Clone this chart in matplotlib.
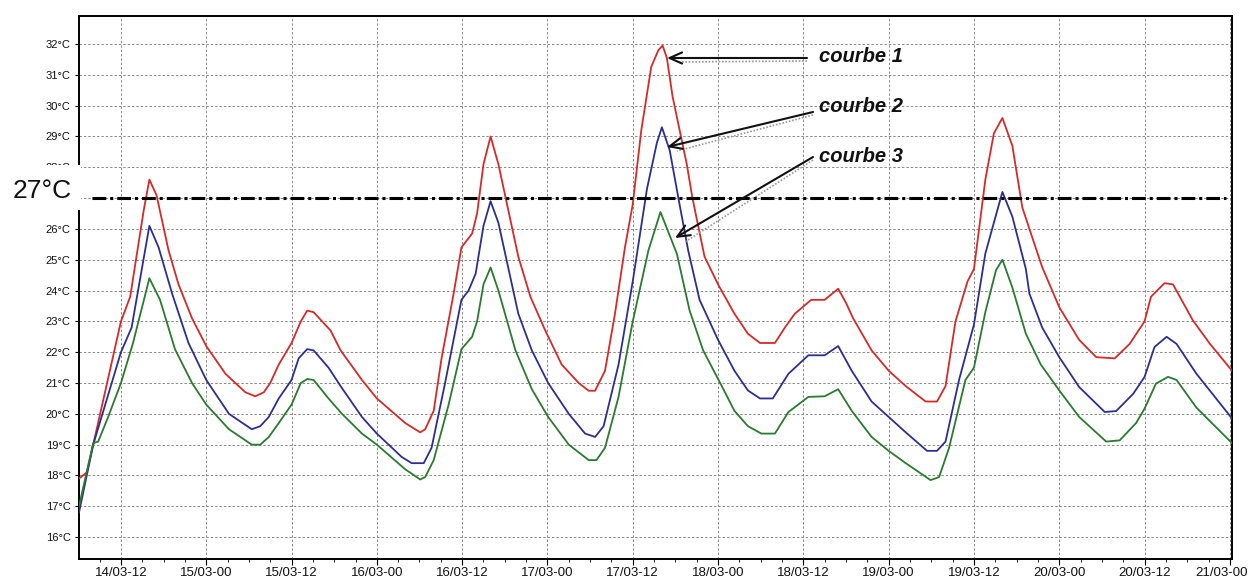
import matplotlib
matplotlib.use("Agg")
import matplotlib.pyplot as plt
from matplotlib.patches import Rectangle
from matplotlib.ticker import MultipleLocator, FixedLocator

# ---------------- data (hours since 14/03 00:00, temperature °C) ----------------
red_hours = [6.1, 7.2, 8.1, 12.0, 13.3, 15.2, 16.0, 17.0, 18.7, 20.1, 22.0, 24.0, 26.7, 29.5,
             30.9, 32.1, 33.0, 34.2, 36.0, 37.3, 38.2, 39.1, 41.5, 42.9, 45.9, 48.0, 52.0,
             54.1, 54.8, 56.0, 57.1, 58.8, 59.9, 61.4, 62.1, 63.0, 64.0, 65.1, 66.5, 67.9,
             69.6, 71.7, 74.0, 76.4, 77.8, 78.7, 80.1, 81.5, 82.9, 84.0, 85.2, 86.6, 87.6,
             88.2, 88.8, 89.6, 90.6, 91.6, 92.4, 94.1, 96.0, 98.3, 100.2, 101.9, 104.0,
             105.4, 106.8, 109.1, 111.0, 112.9, 114.0, 115.0, 117.6, 120.0, 122.4, 125.2,
             126.8, 128.0, 129.4, 131.1, 132.0, 133.6, 134.8, 136.0, 137.4, 138.8, 139.8,
             141.6, 144.0, 146.8, 149.2, 151.8, 153.9, 156.0, 156.9, 158.8, 160.0, 162.8,
             165.2, 168.3]
red_temps = [17.9, 18.1, 19.0, 23.0, 23.8, 26.6, 27.6, 27.1, 25.3, 24.2, 23.1, 22.2, 21.3, 20.7,
             20.57, 20.7, 21.0, 21.6, 22.3, 23.0, 23.35, 23.3, 22.7, 22.06, 21.1, 20.5, 19.7,
             19.4, 19.5, 20.1, 21.8, 23.9, 25.4, 25.85, 26.5, 28.1, 29.0, 28.1, 26.6, 25.1,
             23.8, 22.7, 21.6, 21.0, 20.75, 20.75, 21.4, 23.25, 25.4, 26.8, 29.2, 31.26, 31.8,
             31.95, 31.55, 30.3, 29.2, 28.1, 27.0, 25.1, 24.2, 23.25, 22.6, 22.3, 22.3,
             22.8, 23.25, 23.7, 23.7, 24.06, 23.6, 23.1, 22.06, 21.4, 20.9, 20.4,
             20.4, 20.9, 23.0, 24.3, 24.7, 27.6, 29.1, 29.6, 28.7, 26.7, 26.0,
             24.76, 23.46, 22.4, 21.84, 21.8, 22.27, 23.0, 23.8, 24.24, 24.2, 23.03,
             22.27, 21.4]

blue_hours = [6.1, 8.1, 12.0, 13.5, 16.0, 17.3, 19.2, 21.5, 24.0, 27.2, 30.4, 31.6, 32.8, 34.2,
              36.0, 37.0, 38.2, 39.1, 41.2, 42.9, 45.9, 48.0, 51.5, 52.9, 54.6, 55.7, 57.6,
              59.9, 60.9, 61.9, 63.0, 64.0, 65.1, 67.9, 69.8, 72.1, 75.0, 77.3, 78.7, 79.9,
              82.0, 84.0, 86.0, 87.4, 88.1, 89.2, 90.5, 91.8, 93.4, 96.0, 98.3, 100.2, 101.9,
              103.7, 105.9, 108.7, 111.0, 112.9, 114.8, 117.6, 120.0, 122.4, 125.4, 126.8,
              128.0, 129.9, 132.0, 133.6, 136.0, 137.4, 139.3, 139.8, 141.6, 144.0, 146.8,
              150.4, 152.0, 154.4, 156.0, 157.4, 159.1, 160.5, 163.3, 168.3]
blue_temps = [16.8, 19.0, 22.0, 22.8, 26.1, 25.4, 23.9, 22.3, 21.1, 20.0, 19.5, 19.6, 19.9, 20.5,
              21.1, 21.8, 22.1, 22.06, 21.5, 20.9, 19.9, 19.36, 18.6, 18.4, 18.4, 18.9, 21.0,
              23.7, 24.0, 24.55, 26.1, 26.9, 26.2, 23.25, 22.06, 21.0, 20.0, 19.36, 19.25, 19.6,
              21.6, 24.3, 27.3, 28.8, 29.3, 28.55, 26.9, 25.3, 23.7, 22.4, 21.4, 20.76, 20.5,
              20.5, 21.3, 21.9, 21.9, 22.2, 21.4, 20.4, 19.9, 19.4, 18.8, 18.8,
              19.1, 21.1, 22.9, 25.2, 27.2, 26.4, 24.7, 23.9, 22.8, 21.84, 20.87,
              20.06, 20.09, 20.65, 21.2, 22.17, 22.5, 22.27, 21.3, 19.85]

green_hours = [6.1, 8.1, 8.8, 10.2, 12.0, 13.7, 16.0, 17.5, 19.6, 22.0, 24.0, 27.2, 30.4, 31.6,
               32.8, 34.2, 36.0, 37.3, 38.2, 39.1, 41.2, 43.1, 45.9, 48.0, 52.0, 54.1, 54.8,
               56.0, 58.1, 59.9, 61.4, 62.1, 63.0, 64.0, 65.1, 67.5, 69.8, 72.1, 75.0, 77.8,
               78.9, 80.1, 82.0, 84.0, 86.2, 87.9, 90.2, 92.0, 93.9, 96.3, 98.3, 100.2, 102.1,
               104.0, 105.9, 108.7, 111.0, 112.9, 114.8, 117.6, 120.0, 122.4, 125.9, 127.1,
               128.5, 130.8, 132.0, 133.6, 135.1, 136.0, 137.4, 139.3, 141.4, 144.0, 146.8,
               150.6, 152.5, 154.8, 156.0, 157.6, 159.3, 160.5, 163.3, 168.3]
green_temps = [17.0, 19.05, 19.1, 19.9, 21.0, 22.3, 24.4, 23.7, 22.1, 21.0, 20.3, 19.5, 19.0, 19.0,
               19.25, 19.7, 20.3, 21.0, 21.13, 21.1, 20.5, 20.0, 19.36, 19.0, 18.2, 17.87, 17.95,
               18.5, 20.3, 22.1, 22.5, 23.0, 24.2, 24.75, 24.0, 22.06, 20.8, 19.9, 19.0, 18.5,
               18.5, 18.9, 20.55, 23.0, 25.3, 26.55, 25.2, 23.35, 22.06, 21.0, 20.1, 19.6, 19.36,
               19.36, 20.06, 20.55, 20.57, 20.8, 20.1, 19.25, 18.8, 18.4, 17.85, 17.95,
               18.9, 21.1, 21.5, 23.3, 24.66, 25.0, 24.1, 22.6, 21.6, 20.76, 19.9,
               19.1, 19.14, 19.7, 20.17, 20.98, 21.2, 21.1, 20.2, 19.05]

series_names = ["courbe 1", "courbe 2", "courbe 3"]
y_ticks = list(range(16, 33))
y_tick_labels = [f"{t}°C" for t in y_ticks]
x_tick_hours = list(range(12, 169, 12))
x_tick_labels = ["14/03-12", "15/03-00", "15/03-12", "16/03-00", "16/03-12", "17/03-00",
                 "17/03-12", "18/03-00", "18/03-12", "19/03-00", "19/03-12", "20/03-00",
                 "20/03-12", "21/03-00"]
threshold = 27
threshold_label = "27°C"

# ---------------- figure ----------------
W, H = 1248, 580
fig = plt.figure(figsize=(W / 100, H / 100), dpi=100)
fig.patch.set_facecolor("white")

def px(x0, y0, x1, y1):
    return [x0 / W, 1 - y1 / H, (x1 - x0) / W, (y1 - y0) / H]

ax = fig.add_axes(px(79, 16, 1232, 559))
ax.set_xlim(6.1, 168.3)
ax.set_ylim(15.29, 32.91)

narrow = ["Liberation Sans Narrow", "Liberation Sans", "DejaVu Sans"]

colors = ["#d42a2a", "#2c2f8e", "#2a7a30"]
for hrs, tmp, c in zip([red_hours, blue_hours, green_hours],
                       [red_temps, blue_temps, green_temps], colors):
    ax.plot(hrs, tmp, color=c, lw=1.3, zorder=3, solid_joinstyle="round")

# threshold dash-dot line
x0, x1 = ax.get_xlim()
ax.axhline(threshold, xmin=(7.9 - x0) / (x1 - x0), xmax=(167.5 - x0) / (x1 - x0),
           color="black", lw=2.2, dashes=(4.5, 1.3, 1.0, 1.3), zorder=4)

# ticks & grid (the 27°C tick label is hidden behind the big label in the original)
ax.yaxis.set_major_locator(FixedLocator(y_ticks))
ax.set_yticklabels([("" if t == threshold else lab) for t, lab in zip(y_ticks, y_tick_labels)],
                   family=narrow, fontsize=8, color="#111111")
ax.xaxis.set_major_locator(FixedLocator(x_tick_hours))
# last label is drawn separately (it sits slightly left of its tick, against the edge)
ax.set_xticklabels(x_tick_labels[:-1] + [""], family=narrow, fontsize=9.5, color="#111111")
fig.text(1222 / W, 1 - 567 / H, x_tick_labels[-1], family=narrow, fontsize=9.5,
         color="#111111", ha="center", va="top")
ax.xaxis.set_minor_locator(MultipleLocator(3))
ax.tick_params(axis="y", length=3, pad=3, width=0.8)
ax.tick_params(axis="x", which="major", length=4, pad=2, width=0.8)
ax.tick_params(axis="x", which="minor", length=2, width=0.6)
ax.grid(True, which="major", color="#8a8a8a", lw=0.7, linestyle=(0, (2.5, 2.0)))
for s in ax.spines.values():
    s.set_linewidth(1.4)
    s.set_color("black")

# annotations (arrows pointing at peaks)
def pxdata(x, y):
    inv = ax.transData.inverted()
    return inv.transform(fig.transFigure.transform((x / W, 1 - y / H)))

arrow_specs = [((807, 58), (667, 58)), ((813, 112), (667, 147)), ((813, 157), (675, 238))]
text_y = [57, 106, 156]
for name, (tail, tip), ty in zip(series_names, arrow_specs, text_y):
    t = pxdata(*tail)
    p = pxdata(*tip)
    s0 = pxdata(tail[0], tail[1] + 3)
    s1 = pxdata(tip[0] + 10, tip[1] + 4)
    ax.plot([s0[0], s1[0]], [s0[1], s1[1]], color="#9a9a9a", lw=1.2,
            linestyle=(0, (1, 1)), zorder=5)
    ax.annotate("", xy=p, xytext=t,
                arrowprops=dict(arrowstyle="->,head_length=0.45,head_width=0.2",
                                mutation_scale=20, lw=1.5, color="#111111",
                                shrinkA=0, shrinkB=0), zorder=6)
    fig.text(819 / W, 1 - ty / H, name, fontsize=14.5, fontweight="bold",
             fontstyle="italic", family=["Liberation Sans", "DejaVu Sans"],
             ha="left", va="center", color="#111111")

# white patch hiding the axis around the 27°C label
fig.patches.append(Rectangle((0, 1 - 210 / H), 81 / W, 45 / H, transform=fig.transFigure,
                             facecolor="white", edgecolor="none", zorder=10))
fig.text(42 / W, 1 - 191 / H, threshold_label, fontsize=19,
         family=["Liberation Sans", "DejaVu Sans"], ha="center", va="center",
         color="#111111", zorder=11)

fig.savefig("out.png", dpi=100, facecolor="white")
